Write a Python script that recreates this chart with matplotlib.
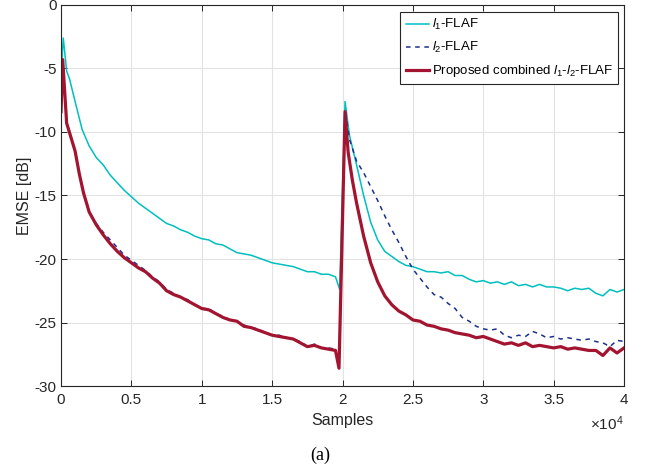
import matplotlib
matplotlib.use("Agg")
import matplotlib.pyplot as plt
import numpy as np

# samples and EMSE [dB]
l1_x = [0, 160, 400, 600, 1000, 1500, 2000, 2500, 3000, 3500, 4000, 4500, 5000, 5500,
        6000, 6500, 7000, 7500, 8000, 8500, 9000, 9500, 10000, 10500, 11000, 11500,
        12000, 12500, 13000, 13500, 14000, 14500, 15000, 15500, 16000, 16500, 17000,
        17500, 18000, 18500, 19000, 19500, 19800, 20180, 20500, 21000, 21500, 22000,
        22500, 23000, 23500, 24000, 24500, 25000, 25500, 26000, 26500, 27000, 27500,
        28000, 28500, 29000, 29500, 30000, 30500, 31000, 31500, 32000, 32500, 33000,
        33500, 34000, 34500, 35000, 35500, 36000, 36500, 37000, 37500, 38000, 38500,
        39000, 39500, 40000]
l1_y = [-5.5, -2.6, -5.2, -5.8, -7.6, -9.8, -11.1, -12.0, -12.6, -13.4, -14.0, -14.6,
        -15.1, -15.6, -16.0, -16.4, -16.8, -17.2, -17.4, -17.7, -17.9, -18.2, -18.4,
        -18.5, -18.8, -18.9, -19.2, -19.5, -19.6, -19.7, -19.9, -20.1, -20.3, -20.4,
        -20.5, -20.6, -20.8, -21.0, -21.0, -21.2, -21.2, -21.4, -22.4, -7.6, -10.3,
        -12.6, -15.0, -17.1, -18.5, -19.4, -19.8, -20.2, -20.5, -20.6, -20.8, -21.0,
        -21.0, -21.1, -21.0, -21.3, -21.3, -21.6, -21.8, -21.7, -21.9, -21.8, -22.0,
        -21.8, -22.1, -22.0, -22.2, -22.0, -22.2, -22.2, -22.3, -22.5, -22.3, -22.4,
        -22.3, -22.7, -22.9, -22.4, -22.6, -22.4]

l2_x = [0, 120, 400, 700, 1000, 1300, 1600, 2000, 2500, 3000, 3500, 4000, 4500, 5000,
        5500, 6000, 6500, 7000, 7500, 8000, 8500, 9000, 9500, 10000, 10500, 11000,
        11500, 12000, 12500, 13000, 13500, 14000, 14500, 15000, 15500, 16000, 16500,
        17000, 17500, 18000, 18500, 19000, 19500, 19750, 20180, 20500, 21000, 21500,
        22000, 22500, 23000, 23500, 24000, 24500, 25000, 25500, 26000, 26500, 27000,
        27500, 28000, 28500, 29000, 29500, 30000, 30500, 31000, 31500, 32000, 32500,
        33000, 33500, 34000, 34500, 35000, 35500, 36000, 36500, 37000, 37500, 38000,
        38500, 39000, 39500, 40000]
l2_y = [-8.4, -4.3, -9.3, -10.4, -11.5, -13.3, -14.8, -16.3, -17.2, -17.9, -18.5, -19.1,
        -19.7, -20.1, -20.5, -20.9, -21.4, -21.8, -22.4, -22.7, -23.0, -23.2, -23.6,
        -23.9, -23.9, -24.3, -24.5, -24.8, -24.9, -25.2, -25.4, -25.5, -25.8, -26.0,
        -26.0, -26.2, -26.3, -26.5, -26.9, -26.7, -27.0, -27.0, -27.1, -28.5, -8.3,
        -10.6, -12.3, -13.2, -14.3, -15.4, -16.6, -17.7, -18.7, -19.8, -20.8, -21.5,
        -22.2, -22.8, -23.0, -23.5, -23.9, -24.6, -24.9, -25.3, -25.5, -25.6, -25.5,
        -26.0, -26.2, -26.0, -26.1, -25.7, -25.9, -26.2, -26.1, -26.3, -26.2, -26.3,
        -26.4, -26.3, -26.5, -26.6, -26.9, -26.4, -26.5]

comb_x = [0, 120, 400, 700, 1000, 1300, 1600, 2000, 2500, 3000, 3500, 4000, 4500, 5000,
          5500, 6000, 6500, 7000, 7500, 8000, 8500, 9000, 9500, 10000, 10500, 11000,
          11500, 12000, 12500, 13000, 13500, 14000, 14500, 15000, 15500, 16000, 16500,
          17000, 17500, 18000, 18500, 19000, 19500, 19750, 20180, 20400, 20700, 21000,
          21500, 22000, 22500, 23000, 23500, 24000, 24500, 25000, 25500, 26000, 26500,
          27000, 27500, 28000, 28500, 29000, 29500, 30000, 30500, 31000, 31500, 32000,
          32500, 33000, 33500, 34000, 34500, 35000, 35500, 36000, 36500, 37000, 37500,
          38000, 38500, 39000, 39500, 40000]
comb_y = [-8.4, -4.3, -9.3, -10.4, -11.5, -13.3, -14.8, -16.3, -17.3, -18.1, -18.8,
          -19.4, -19.9, -20.3, -20.7, -21.0, -21.5, -21.9, -22.5, -22.8, -23.0, -23.3,
          -23.6, -23.9, -24.0, -24.3, -24.6, -24.8, -24.9, -25.3, -25.4, -25.6, -25.8,
          -26.0, -26.1, -26.2, -26.3, -26.6, -26.9, -26.8, -27.0, -27.1, -27.2, -28.6,
          -8.4, -11.6, -13.8, -15.6, -18.2, -20.3, -21.8, -22.9, -23.6, -24.1, -24.4,
          -24.8, -24.9, -25.2, -25.3, -25.5, -25.6, -25.8, -25.9, -26.0, -26.2, -26.1,
          -26.3, -26.5, -26.7, -26.6, -26.8, -26.6, -26.9, -26.8, -26.9, -27.0, -26.9,
          -27.1, -27.0, -27.1, -27.2, -27.2, -27.6, -27.0, -27.4, -27.0]

x_ticks = [0, 5000, 10000, 15000, 20000, 25000, 30000, 35000, 40000]
x_tick_labels = ["0", "0.5", "1", "1.5", "2", "2.5", "3", "3.5", "4"]
y_ticks = [-30, -25, -20, -15, -10, -5, 0]

plt.rcParams["font.family"] = ["Liberation Sans", "DejaVu Sans"]
plt.rcParams["mathtext.fontset"] = "custom"
plt.rcParams["mathtext.rm"] = "Liberation Sans"
plt.rcParams["mathtext.it"] = "Liberation Sans:italic"
plt.rcParams["axes.unicode_minus"] = False

AX_COLOR = "#262626"

fig = plt.figure(figsize=(6.47, 4.70), dpi=100)
ax = fig.add_axes([0.0943, 0.1787, 0.8702, 0.8107])

ax.plot(l1_x, l1_y, color="#00bfbf", linewidth=1.1, label=r"$\mathit{l}_1$-FLAF")
ax.plot(l2_x, l2_y, color="#1c2f8c", linewidth=1.1, linestyle=(0, (3, 3)),
        label=r"$\mathit{l}_2$-FLAF")
ax.plot(comb_x, comb_y, color="#a2142f", linewidth=2.3,
        label=r"Proposed combined $\mathit{l}_1$-$\mathit{l}_2$-FLAF")

ax.set_xlim(0, 40000)
ax.set_ylim(-30, 0)
ax.set_xticks(x_ticks)
ax.set_xticklabels(x_tick_labels)
ax.set_yticks(y_ticks)
ax.grid(True, color="#e3e3e3", linewidth=0.8)
ax.set_axisbelow(True)
ax.tick_params(direction="in", top=True, right=True, length=4, width=0.7,
               colors=AX_COLOR, labelsize=11)
ax.tick_params(axis="x", pad=5)
ax.tick_params(axis="y", pad=3)
for spine in ax.spines.values():
    spine.set_color(AX_COLOR)
    spine.set_linewidth(0.8)

ax.set_xlabel("Samples", fontsize=11.5, color=AX_COLOR, labelpad=4)
ax.set_ylabel("EMSE [dB]", fontsize=11.5, color=AX_COLOR, labelpad=2)
ax.text(1.0, -0.075, r"$\times10^{4}$", transform=ax.transAxes, ha="right", va="top",
        fontsize=11, color=AX_COLOR)

leg = ax.legend(loc="upper right", bbox_to_anchor=(0.99, 0.982), borderaxespad=0,
                fontsize=9.5, fancybox=False, framealpha=1, edgecolor=AX_COLOR,
                handlelength=1.8, handletextpad=0.2, labelspacing=0.6,
                borderpad=0.4)
leg.get_frame().set_linewidth(0.8)

fig.text(0.495, 0.032, "(a)", ha="center", va="center", fontsize=13,
         family="Liberation Serif")

fig.savefig("out.png", dpi=100)
